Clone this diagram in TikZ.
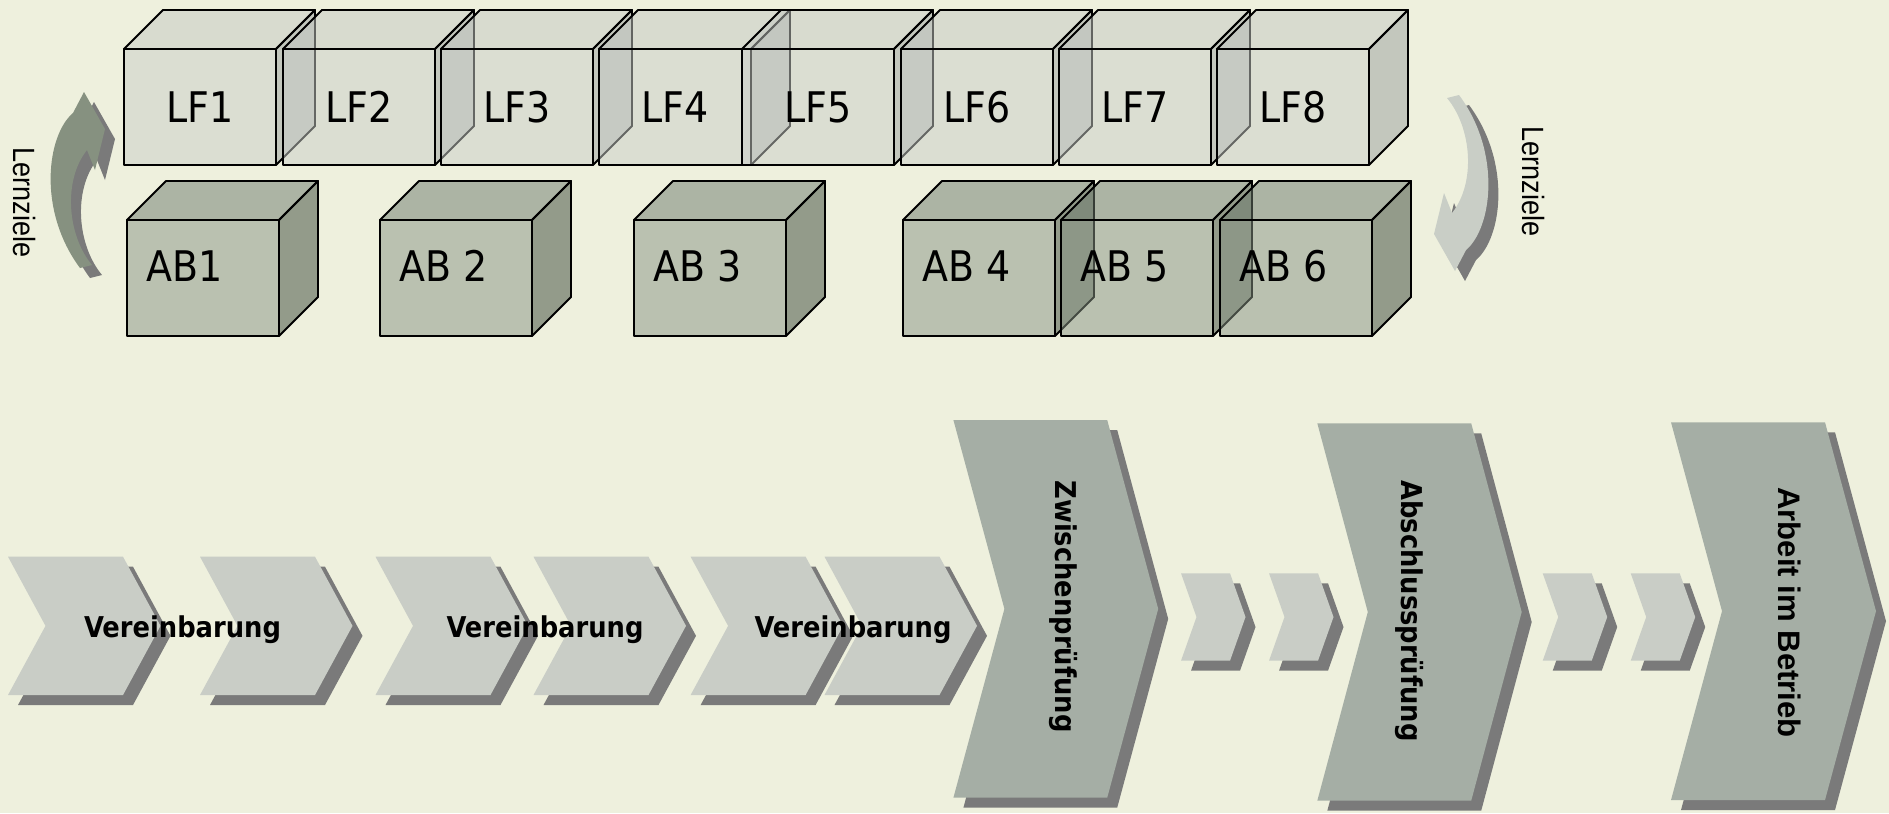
\documentclass[tikz,border=0pt]{standalone}
\usepackage{fontspec}
\setmainfont{DejaVu Sans Condensed}
\newfontfamily\lzfont[FakeStretch = 0.88]{Liberation Sans}
\newfontfamily\aibfont{Liberation Sans}
\definecolor{paper}{HTML}{EEF0DD}
\definecolor{lffront}{HTML}{CACEC9}
\definecolor{lftop}{HTML}{C4C8C3}
\definecolor{lfside}{HTML}{9AA09F}
\definecolor{abfront}{HTML}{889485}
\definecolor{abtop}{HTML}{6C7A6D}
\definecolor{abside}{HTML}{3A4839}
\definecolor{chevlight}{HTML}{C9CDC6}
\definecolor{chevdark}{HTML}{A5AEA5}
\definecolor{shadowgrey}{HTML}{7A7A7A}
\definecolor{arrowgreen}{HTML}{869180}
\definecolor{arrowlight}{HTML}{C9CEC6}

\begin{document}
\begin{tikzpicture}[x = 0.2mm, y = -0.2mm,
  face/.style = {draw = black, line width = 1.1pt, line join = round,
    fill opacity = 0.5},
  cubelabel/.style = {font = \fontsize{24}{28}\selectfont, inner sep = 0pt},
  chevron/.style = {fill = chevlight},
  bigchevron/.style = {fill = chevdark},
  steplabel/.style = {font = \bfseries\fontsize{16.3}{19}\selectfont,
    inner sep = 0pt, anchor = base},
  sidelabel/.style = {font = \lzfont\fontsize{17.5}{20}\selectfont,
    inner sep = 0pt, anchor = base, rotate = -90}]

  \useasboundingbox (0, 0) rectangle (1889, 813);
  \fill[paper] (0, 0) rectangle (1889, 813);

  \foreach \x/\n in {124/1, 283/2, 441/3, 599/4, 742/5, 901/6, 1059/7,
    1217/8} {
    \filldraw[face, fill = lffront] (\x, 49) rectangle ++(152, 116);
    \filldraw[face, fill = lftop] (\x, 49) -- ++(39, -39) -- ++(152, 0) --
    ++(-39, 39) -- cycle;
    \filldraw[face, fill = lfside] (\x + 152, 49) -- ++(39, -39) --
    ++(0, 116) -- ++(-39, 39) -- cycle;
    \node[cubelabel] (lf\n) at (\x + 76, 107) {LF\n};
  }

  \foreach \x/\n/\t in {127/1/AB1, 380/2/AB 2, 634/3/AB 3, 903/4/AB 4,
    1061/5/AB 5, 1220/6/AB 6} {
    \filldraw[face, fill = abfront] (\x, 220) rectangle ++(152, 116);
    \filldraw[face, fill = abtop] (\x, 220) -- ++(39, -39) -- ++(152, 0) --
    ++(-39, 39) -- cycle;
    \filldraw[face, fill = abside] (\x + 152, 220) -- ++(39, -39) --
    ++(0, 116) -- ++(-39, 39) -- cycle;
    \node[cubelabel, anchor = base west] (ab\n) at (\x + 19, 281) {\t};
  }

  \foreach \x/\yt/\w/\d/\yb/\c in {8/556.7/115/37.5/695/chevron,
    200/556.7/115/37.5/695/chevron, 375.5/556.7/115/37.5/695/chevron,
    533.5/556.7/115/37.5/695/chevron, 690.6/556.7/115/37.5/695/chevron,
    824.5/556.7/115/37.5/695/chevron, 953.4/420/153.8/51/797.7/bigchevron,
    1181/573.3/49/15.5/660.7/chevron, 1269/573.3/49/15.5/660.7/chevron,
    1317.3/423.3/153.9/50.5/800.7/bigchevron,
    1542.7/573.3/49/15.5/660.7/chevron, 1630.7/573.3/49/15.5/660.7/chevron,
    1671/422.3/154/51/800/bigchevron} {
    \fill[shadowgrey, shift = {(10, 10)}] (\x, \yt) -- ++(\w, 0) --
    ({\x + \w + \d}, {(\yt + \yb) / 2}) -- (\x + \w, \yb) -- (\x, \yb) --
    ({\x + \d}, {(\yt + \yb) / 2}) -- cycle;
    \fill[\c] (\x, \yt) -- ++(\w, 0) --
    ({\x + \w + \d}, {(\yt + \yb) / 2}) -- (\x + \w, \yb) -- (\x, \yb) --
    ({\x + \d}, {(\yt + \yb) / 2}) -- cycle;
  }

  \node[steplabel] (ver1) at (182.5, 637) {Vereinbarung};
  \node[steplabel] (ver2) at (545, 637) {Vereinbarung};
  \node[steplabel] (ver3) at (853, 637) {Vereinbarung};
  \node[steplabel, rotate = -90] (zp) at (1055, 606.5) {Zwischenprüfung};
  \node[steplabel, rotate = -90] (ap) at (1401, 611) {Abschlussprüfung};
  \node[steplabel, rotate = -90, font = \aibfont\bfseries\fontsize{17.7}{20}\selectfont]
  (aib) at (1778, 612.5) {Arbeit im Betrieb};

  \foreach \cx/\cy/\r/\c in {87/190/0/shadowgrey, 77/180/0/arrowgreen,
    1472/193/180/shadowgrey, 1462/183/180/arrowlight} {
    \fill[\c, shift = {(\cx, \cy)}, rotate = \r] (3, 88) -- (15, 85)
    .. controls (-10, 55) and (-14, 0) .. (10, -30) -- (18, -10) --
    (28, -51) -- (7, -88) -- (-4, -67)
    .. controls (-30, -45) and (-40, 30) .. (3, 88) -- cycle;
  }

  \node[sidelabel] (lzleft) at (13, 202.5) {Lernziele};
  \node[sidelabel] (lzright) at (1522, 181.5) {Lernziele};
\end{tikzpicture}
\end{document}
